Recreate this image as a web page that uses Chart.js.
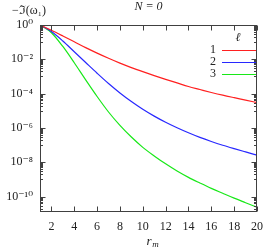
<!DOCTYPE html>
<html>
<head>
<meta charset="utf-8">
<script src="https://cdn.jsdelivr.net/npm/chart.js@4"></script>
<style>
  html, body { margin: 0; padding: 0; background: #fff; }
</style>
</head>
<body>
<canvas id="decay" width="271" height="250"></canvas>
<script>
// r_m values (x axis)
var rm = [1, 2, 3, 4, 5, 6, 7, 8, 9, 10, 11, 12, 13, 14, 15, 16, 17, 18, 19, 20];

// -Im(omega_1), one array per l
var imOmegaL1 = [1, 0.49, 0.229, 0.105, 0.0479, 0.0229, 0.0115, 6.0e-3, 3.3e-3, 1.9e-3,
                 1.12e-3, 6.8e-4, 4.2e-4, 2.6e-4, 1.74e-4, 1.17e-4, 8.1e-5, 5.8e-5, 4.2e-5, 3.0e-5];
var imOmegaL2 = [1, 0.417, 0.117, 0.0275, 6.5e-3, 1.55e-3, 3.9e-4, 1.1e-4, 3.47e-5, 1.23e-5,
                 4.9e-6, 2.14e-6, 1.02e-6, 5.2e-7, 2.8e-7, 1.62e-7, 9.8e-8, 6.2e-8, 4.0e-8, 2.6e-8];
var imOmegaL3 = [1, 0.355, 0.056, 6.3e-3, 6.3e-4, 6.8e-5, 8.5e-6, 1.41e-6, 2.95e-7, 7.4e-8,
                 2.34e-8, 8.1e-9, 3.1e-9, 1.32e-9, 6.2e-10, 3.0e-10, 1.55e-10, 8.1e-11, 4.4e-11, 2.4e-11];

var seriesLabels = ['1', '2', '3'];
var seriesColors = ['#ff2020', '#2828ff', '#18e818'];

var xTicks = [2, 4, 6, 8, 10, 12, 14, 16, 18, 20];
var yTicks = [1, 1e-2, 1e-4, 1e-6, 1e-8, 1e-10];
var yTickLabels = ['10⁰', '10⁻²', '10⁻⁴', '10⁻⁶', '10⁻⁸', '10⁻¹⁰'];

var serif = '"Liberation Serif", "DejaVu Serif", serif';

function points(ys) {
  return rm.map(function (x, i) { return {x: x, y: ys[i]}; });
}

// frame, inward ticks, legend and labels drawn the gnuplot way
var decor = {
  id: 'decor',
  afterDraw: function (chart) {
    var ctx = chart.ctx;
    var a = chart.chartArea;
    var xs = chart.scales.x, ys = chart.scales.y;
    var L = Math.round(a.left) + 0.5, R = Math.round(a.right) - 0.5;
    var T = Math.round(a.top) + 0.5, B = Math.round(a.bottom) - 0.5;
    ctx.save();
    ctx.strokeStyle = '#404040';
    ctx.lineWidth = 1;
    ctx.strokeRect(L, T, R - L, B - T);

    ctx.beginPath();
    xTicks.forEach(function (v) {
      var px = Math.round(xs.getPixelForValue(v)) + 0.5;
      ctx.moveTo(px, B); ctx.lineTo(px, B - 5);
      ctx.moveTo(px, T); ctx.lineTo(px, T + 5);
    });
    yTicks.forEach(function (v) {
      var py = Math.round(ys.getPixelForValue(v)) + 0.5;
      ctx.moveTo(L, py); ctx.lineTo(L + 5, py);
      ctx.moveTo(R, py); ctx.lineTo(R - 5, py);
      for (var k = 1; k <= 9; k++) {
        var m = v * k / 10;
        if (m < ys.min) continue;
        var pm = Math.round(ys.getPixelForValue(m)) + 0.5;
        ctx.moveTo(L, pm); ctx.lineTo(L + 2.5, pm);
        ctx.moveTo(R, pm); ctx.lineTo(R - 2.5, pm);
      }
    });
    ctx.stroke();

    ctx.fillStyle = '#222';
    ctx.textBaseline = 'middle';
    ctx.textAlign = 'center';
    ctx.font = 'italic 12px ' + serif;
    ctx.fillText('N = 0', (a.left + a.right) / 2, 7);
    ctx.font = '12px ' + serif;
    ctx.fillText('−ℑ(ω₁)', 29, 11);

    ctx.font = 'italic 13px ' + serif;
    ctx.fillText('r', 149, 242);
    ctx.font = 'italic 9px ' + serif;
    ctx.fillText('m', 155.5, 245);

    // legend
    ctx.font = 'italic 12px ' + serif;
    ctx.fillText('ℓ', 238, 38);
    ctx.font = '12px ' + serif;
    ctx.textAlign = 'right';
    chart.data.datasets.forEach(function (ds, i) {
      var y = 49.5 + i * 12.3;
      ctx.fillStyle = '#222';
      ctx.fillText(ds.label, 216, y);
      ctx.strokeStyle = ds.borderColor;
      ctx.lineWidth = 1.2;
      ctx.beginPath();
      ctx.moveTo(222, Math.round(y) + 0.5);
      ctx.lineTo(256, Math.round(y) + 0.5);
      ctx.stroke();
    });
    ctx.restore();
  }
};

var ctx = document.getElementById('decay').getContext('2d');

window.decayChart = new Chart(ctx, {
  type: 'line',
  data: {
    datasets: [
      {label: seriesLabels[0], data: points(imOmegaL1), borderColor: seriesColors[0]},
      {label: seriesLabels[1], data: points(imOmegaL2), borderColor: seriesColors[1]},
      {label: seriesLabels[2], data: points(imOmegaL3), borderColor: seriesColors[2]}
    ]
  },
  options: {
    responsive: false,
    animation: false,
    layout: {padding: {top: 25, right: 8, left: 0, bottom: 0}},
    elements: {
      point: {radius: 0},
      line: {borderWidth: 1.2, cubicInterpolationMode: 'monotone', fill: false}
    },
    plugins: {
      legend: {display: false},
      tooltip: {enabled: false}
    },
    scales: {
      x: {
        type: 'linear',
        min: 1,
        max: 20,
        afterBuildTicks: function (scale) {
          scale.ticks = xTicks.map(function (v) { return {value: v}; });
        },
        afterFit: function (scale) { scale.height = 38.5; },
        grid: {display: false, drawTicks: false},
        border: {display: false},
        ticks: {
          padding: 8,
          maxRotation: 0,
          autoSkip: false,
          color: '#222',
          font: {family: serif, size: 12}
        }
      },
      y: {
        type: 'logarithmic',
        min: 1.35e-11,
        max: 1,
        afterBuildTicks: function (scale) {
          scale.ticks = yTicks.map(function (v) { return {value: v}; });
        },
        afterFit: function (scale) { scale.width = 40; },
        grid: {display: false, drawTicks: false},
        border: {display: false},
        ticks: {
          padding: 7,
          autoSkip: false,
          color: '#222',
          font: {family: serif, size: 12},
          callback: function (value) {
            var i = yTicks.indexOf(value);
            return i >= 0 ? yTickLabels[i] : '';
          }
        }
      }
    }
  },
  plugins: [decor]
});
</script>
</body>
</html>
